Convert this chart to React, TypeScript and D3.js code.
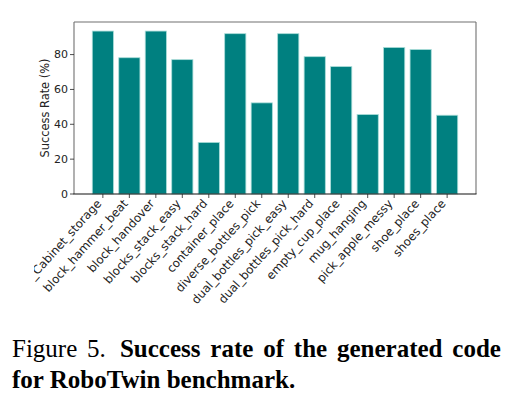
import React from "react";
import { scaleBand, scaleLinear } from "d3";

const tasks = [
  "_Cabinet_storage",
  "block_hammer_beat",
  "block_handover",
  "blocks_stack_easy",
  "blocks_stack_hard",
  "container_place",
  "diverse_bottles_pick",
  "dual_bottles_pick_easy",
  "dual_bottles_pick_hard",
  "empty_cup_place",
  "mug_hanging",
  "pick_apple_messy",
  "shoe_place",
  "shoes_place",
];
const successRates = [93.5, 78.2, 93.5, 77.1, 29.6, 92.0, 52.3, 92.0, 78.8, 73.1, 45.6, 84.1, 82.9, 45.2];
const yTicks = [0, 20, 40, 60, 80];

const W = 512;
const H = 396;
const plot = { left: 74, right: 476, top: 22, bottom: 194 };
const labelAngle = 48;
const font = "DejaVu Sans, sans-serif";

export default function App() {
  const x = scaleBand<string>()
    .domain(tasks)
    .range([plot.left, plot.right])
    .paddingInner(0.2)
    .paddingOuter(0.69);
  const y = scaleLinear().domain([0, 98.7]).range([plot.bottom, plot.top]);

  return (
    <svg
      width={W}
      height={H}
      style={{ position: "absolute", left: 0, top: 0, background: "#fff" }}
    >
      <defs>
        <clipPath id="fig-clip">
          <rect x={34} y={0} width={W - 34} height={H} />
        </clipPath>
      </defs>
      <rect width={W} height={H} fill="#fff" />

      {/* bars */}
      {tasks.map((t, i) => (
        <rect
          key={t}
          x={x(t)}
          y={y(successRates[i])}
          width={x.bandwidth()}
          height={y(0) - y(successRates[i])}
          fill="#008080"
          stroke="#a9dcd8"
          strokeWidth={0.8}
        />
      ))}

      {/* spines */}
      <line x1={plot.left} x2={plot.right} y1={plot.top} y2={plot.top} stroke="#707070" strokeWidth={1.1} />
      <line x1={plot.left} x2={plot.left} y1={plot.top} y2={plot.bottom} stroke="#707070" strokeWidth={1.1} />
      <line x1={plot.right} x2={plot.right} y1={plot.top} y2={plot.bottom} stroke="#707070" strokeWidth={1.1} />
      <line x1={plot.left - 0.5} x2={plot.right + 0.5} y1={plot.bottom} y2={plot.bottom} stroke="#111" strokeWidth={1.1} />

      {/* y axis */}
      {yTicks.map((v) => (
        <g key={v}>
          <line x1={plot.left - 4} x2={plot.left} y1={y(v)} y2={y(v)} stroke="#222" strokeWidth={0.8} />
          <text
            x={plot.left - 6}
            y={y(v)}
            textAnchor="end"
            dominantBaseline="central"
            fontFamily={font}
            fontSize={11}
            fill="#222"
          >
            {v}
          </text>
        </g>
      ))}
      <text
        transform={`translate(48.5, ${(plot.top + plot.bottom) / 2}) rotate(-90)`}
        textAnchor="middle"
        fontFamily={font}
        fontSize={11.4}
        fill="#222"
      >
        Success Rate (%)
      </text>

      {/* x axis */}
      <g clipPath="url(#fig-clip)">
        {tasks.map((t) => {
          const cx = (x(t) ?? 0) + x.bandwidth() / 2;
          return (
            <g key={t}>
              <line x1={cx} x2={cx} y1={plot.bottom} y2={plot.bottom + 4} stroke="#222" strokeWidth={0.8} />
              <text
                transform={`translate(${cx - 0.8}, 204) rotate(-${labelAngle})`}
                textAnchor="end"
                fontFamily={font}
                fontSize={11.8}
                fill="#222"
              >
                {t}
              </text>
            </g>
          );
        })}
      </g>

      {/* caption */}
      <text
        x={12}
        y={357}
        fontFamily="Liberation Serif, Times New Roman, serif"
        fontSize={25}
        fill="#000"
        wordSpacing={3.6}
      >
        Figure 5.
        <tspan dx={14} fontWeight="bold">
          Success rate of the generated code
        </tspan>
      </text>
      <text
        x={12}
        y={388}
        fontFamily="Liberation Serif, Times New Roman, serif"
        fontSize={25}
        fontWeight="bold"
        fill="#000"
      >
        for RoboTwin benchmark.
      </text>
    </svg>
  );
}
